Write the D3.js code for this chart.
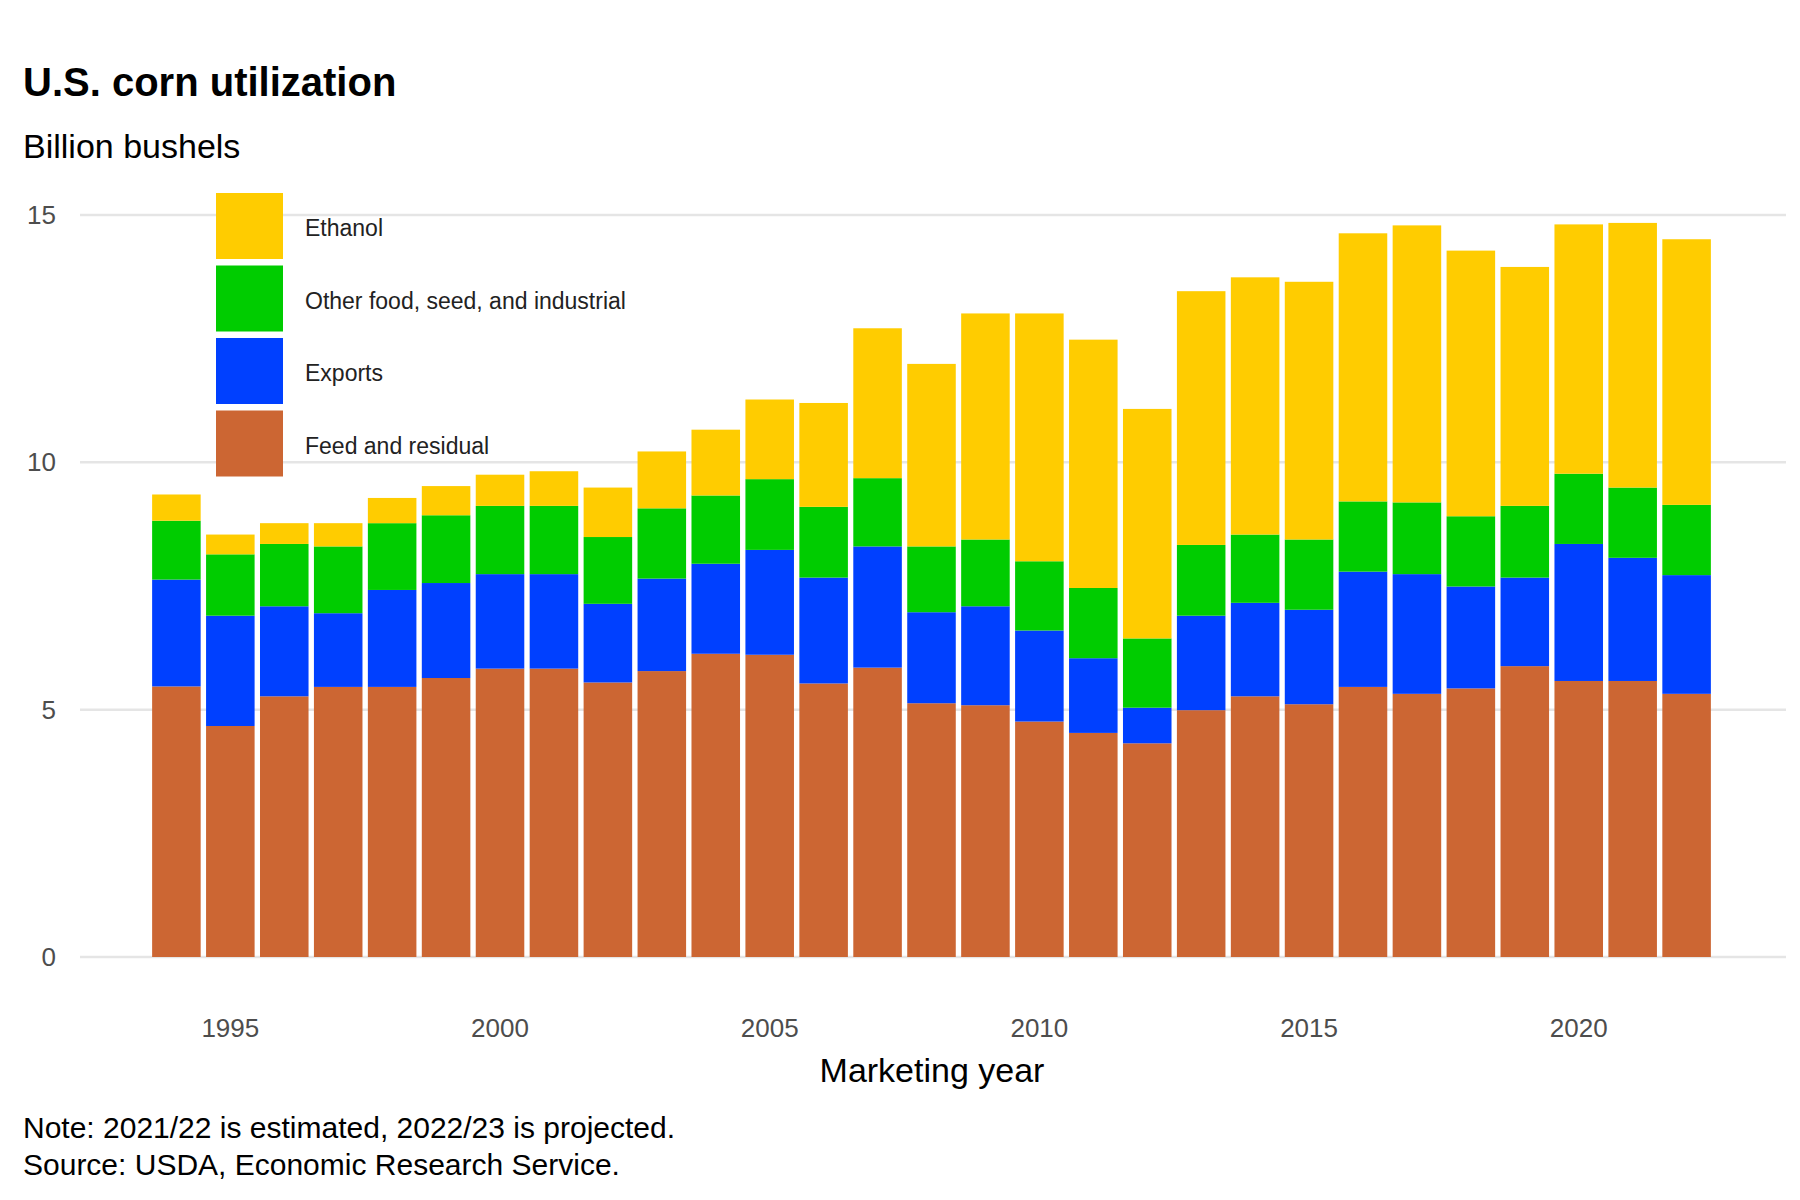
<!DOCTYPE html>
<html><head><meta charset="utf-8">
<script src="https://cdn.jsdelivr.net/npm/d3@7"></script>
<style>body{margin:0;background:#fff}text{font-family:"Liberation Sans",Arial,sans-serif}</style>
</head><body><svg id="c" width="1800" height="1200"></svg>
<script>
const years = d3.range(1994, 2023);
const feed    = [5.47,4.67,5.27,5.46,5.46,5.64,5.83,5.83,5.55,5.78,6.13,6.11,5.53,5.85,5.13,5.09,4.76,4.53,4.32,4.99,5.27,5.11,5.46,5.32,5.43,5.88,5.58,5.58,5.32];
const exportsV= [2.16,2.23,1.82,1.49,1.96,1.92,1.91,1.91,1.59,1.87,1.82,2.12,2.14,2.45,1.84,2.00,1.84,1.51,0.72,1.91,1.89,1.91,2.33,2.42,2.06,1.79,2.77,2.49,2.40];
const other   = [1.19,1.24,1.26,1.35,1.35,1.37,1.38,1.38,1.35,1.42,1.38,1.43,1.43,1.38,1.33,1.35,1.40,1.42,1.40,1.43,1.38,1.42,1.42,1.45,1.42,1.45,1.42,1.42,1.42];
const ethanol = [0.53,0.40,0.42,0.47,0.51,0.59,0.63,0.70,1.00,1.15,1.33,1.61,2.10,3.03,3.69,4.57,5.01,5.02,4.64,5.13,5.20,5.21,5.42,5.60,5.37,4.83,5.04,5.35,5.37];
const seriesNames = ["Feed and residual","Exports","Other food, seed, and industrial","Ethanol"];
const colors = ["#cc6633","#0040ff","#00cc00","#ffcc00"];
const yTicks = [0,5,10,15];
const xTicks = [1995,2000,2005,2010,2015,2020];

const svg = d3.select("#c");
const table = years.map((y,i)=>({year:y, s0:feed[i], s1:exportsV[i], s2:other[i], s3:ethanol[i]}));
const stack = d3.stack().keys(["s0","s1","s2","s3"])(table);
const step = (1684-179)/28;
const x = d3.scaleBand().domain(years).range([179-step/2, 1684+step/2]).paddingInner(0.1).paddingOuter(0);
const y = d3.scaleLinear().domain([0,15]).range([957,215]);

svg.append("g").selectAll("line").data(yTicks).join("line")
 .attr("x1",80).attr("x2",1786).attr("y1",d=>y(d)).attr("y2",d=>y(d))
 .attr("stroke","#e5e5e5").attr("stroke-width",2.5);
svg.append("g").selectAll("text").data(yTicks).join("text")
 .attr("x",56).attr("y",d=>y(d)+9).attr("text-anchor","end").attr("font-size",26).attr("fill","#4d4d4d").text(d=>d);

stack.forEach((layer,k)=>{
  svg.append("g").attr("fill",colors[k]).selectAll("rect").data(layer).join("rect")
   .attr("x",d=>x(d.data.year)).attr("width",x.bandwidth())
   .attr("y",d=>y(d[1])).attr("height",d=>y(d[0])-y(d[1]));
});

svg.append("g").selectAll("text").data(xTicks).join("text")
 .attr("x",d=>x(d)+x.bandwidth()/2).attr("y",1037).attr("text-anchor","middle").attr("font-size",26).attr("fill","#4d4d4d").text(d=>d);

svg.append("text").attr("x",932).attr("y",1082).attr("text-anchor","middle").attr("font-size",34).text("Marketing year");
svg.append("text").attr("x",23).attr("y",96).attr("font-size",40).attr("font-weight","bold").text("U.S. corn utilization");
svg.append("text").attr("x",23).attr("y",158).attr("font-size",34).text("Billion bushels");
svg.append("text").attr("x",23).attr("y",1138).attr("font-size",30).text("Note: 2021/22 is estimated, 2022/23 is projected.");
svg.append("text").attr("x",23).attr("y",1175).attr("font-size",30).text("Source: USDA, Economic Research Service.");

const leg = [3,2,1,0];
const lg = svg.append("g").selectAll("g").data(leg).join("g").attr("transform",(d,i)=>`translate(216,${193+i*72.5})`);
lg.append("rect").attr("width",67).attr("height",66).attr("fill",d=>colors[d]);
lg.append("text").attr("x",89).attr("y",43).attr("font-size",23).attr("fill","#222").text(d=>seriesNames[d]);
</script></body></html>
